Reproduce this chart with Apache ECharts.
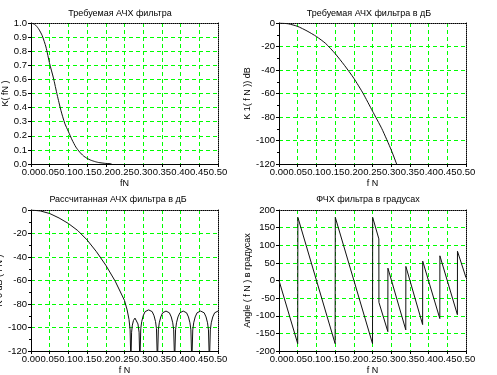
<!DOCTYPE html>
<html>
<head>
<meta charset="utf-8">
<title>АЧХ и ФЧХ фильтра</title>
<script src="https://cdn.jsdelivr.net/npm/echarts@6/dist/echarts.min.js"></script>
<style>
html, body { margin: 0; padding: 0; background: #fff; }
#main { width: 497px; height: 375px; }
</style>
</head>
<body>
<div id="main"></div>
<script>
// Требуемая АЧХ (линейная)
var kFreq  = [0, 0.01, 0.02, 0.03, 0.04, 0.05, 0.06, 0.07, 0.08, 0.09, 0.10, 0.11, 0.12, 0.13, 0.14, 0.15, 0.16, 0.17, 0.18, 0.20, 0.215];
var kValue = [1.0, 0.99, 0.96, 0.91, 0.83, 0.71, 0.61, 0.49, 0.38, 0.29, 0.23, 0.17, 0.12, 0.085, 0.058, 0.04, 0.027, 0.018, 0.011, 0.004, 0.002];

// Требуемая АЧХ в дБ
var dbFreq  = [0, 0.025, 0.05, 0.075, 0.10, 0.125, 0.15, 0.175, 0.20, 0.225, 0.25, 0.275, 0.30, 0.318];
var dbValue = [0, -0.7, -2.9, -6.8, -11.5, -17.5, -26, -36, -47, -60, -75, -90, -108, -123];

// Рассчитанная АЧХ в дБ (полоса пропускания + боковые лепестки)
var calcFreq = [0, 0.025, 0.05, 0.075, 0.10, 0.125, 0.15, 0.175, 0.20, 0.225, 0.25, 0.257, 0.262, 0.265, 0.267,
	0.269, 0.271, 0.274, 0.278, 0.283, 0.286, 0.289, 0.291,
	0.2935, 0.296, 0.300, 0.305, 0.3145, 0.324, 0.329, 0.333, 0.3355, 0.338,
	0.3405, 0.343, 0.347, 0.352, 0.361, 0.370, 0.375, 0.379, 0.3815, 0.384,
	0.3865, 0.389, 0.393, 0.398, 0.407, 0.416, 0.421, 0.425, 0.4275, 0.430,
	0.4325, 0.435, 0.439, 0.444, 0.4535, 0.463, 0.468, 0.472, 0.4745, 0.477,
	0.4795, 0.482, 0.486, 0.491, 0.50];
var calcValue = [0, -0.8, -3, -6.8, -11.5, -17.5, -25.5, -35.5, -47, -60.5, -77, -85, -93, -102, -130,
	-104, -98, -94, -92, -93.5, -97, -104, -130,
	-101, -95, -90, -86.5, -85, -86.5, -90, -95, -101, -130,
	-102, -96, -91, -87.5, -86, -87.5, -91, -96, -102, -130,
	-102, -96, -91, -87.5, -86, -87.5, -91, -96, -102, -130,
	-102, -96, -91, -87.5, -86, -87.5, -91, -96, -102, -130,
	-102, -96, -91, -87.5, -86];

// ФЧХ в градусах
var phaseFreq  = [0, 0.05, 0.0505, 0.15, 0.1505, 0.25, 0.2505, 0.267, 0.2672, 0.291, 0.2912, 0.339, 0.3392, 0.384, 0.3842, 0.430, 0.4302, 0.477, 0.4772, 0.50];
var phaseValue = [0, -179, 179, -179, 179, -179, 179, 118, -62, -145, 35, -140, 40, -125, 55, -108, 70, -97, 83, 8];

var FONT = 'Liberation Sans';

var plots = {

	zip: function(xs, ys) {
		var out = [];
		for (var i = 0; i < xs.length; i++) {
			out.push([xs[i], ys[i]]);
		}
		return out;
	},

	gridLine: function() { // зелёная пунктирная сетка
		return { color: '#00ff00', width: 1, type: [4, 3] };
	},

	build: function() {
		var chart = echarts.init(document.getElementById('main'));

		// расположение четырёх графиков
		var grids = [
			{ left: 31,  top: 23,  width: 187, height: 141 },
			{ left: 279, top: 23,  width: 187, height: 141 },
			{ left: 31,  top: 210, width: 187, height: 141 },
			{ left: 279, top: 210, width: 187, height: 141 }
		].map(function(g) {
			g.containLabel = false;
			g.outerBoundsMode = 'none';
			return g;
		});
		var yCfg = [
			{ min: 0,    max: 1,   interval: 0.1, digits: 1, minor: false, name: 'K( fN )' },
			{ min: -120, max: 0,   interval: 20,  digits: 0, minor: true,  name: 'K 1( f N )) dB' },
			{ min: -120, max: 0,   interval: 20,  digits: 0, minor: true,  name: 'K 0 dB ( f N )' },
			{ min: -200, max: 200, interval: 50,  digits: 0, minor: false, name: 'Angle ( f N ) в градусах' }
		];
		var xNames = ['fN', 'f N', 'f N', 'f N'];
		var titles = [
			{ text: 'Требуемая АЧХ фильтра',         x: 120, y: 9 },
			{ text: 'Требуемая АЧХ фильтра в дБ',    x: 369, y: 9 },
			{ text: 'Рассчитанная АЧХ фильтра в дБ', x: 118, y: 195 },
			{ text: 'ФЧХ фильтра в градусах',        x: 368, y: 195 }
		];

		var xAxes = [], yAxes = [];
		for (var g = 0; g < 4; g++) {
			var yc = yCfg[g];
			xAxes.push({
				gridIndex: g, type: 'value', min: 0, max: 0.5, interval: 0.05, position: 'bottom',
				name: xNames[g], nameLocation: 'middle', nameGap: 15,
				nameTextStyle: { color: '#000', fontSize: 9, fontFamily: FONT },
				axisLine: { onZero: false, lineStyle: { color: '#000', width: 1 } },
				axisTick: { show: true, length: 3, lineStyle: { color: '#000' } },
				axisLabel: {
					color: '#000', fontSize: 9.5, fontFamily: FONT, margin: 3,
					showMinLabel: true, showMaxLabel: true, hideOverlap: false,
					formatter: function(v) { return v.toFixed(2); }
				},
				splitLine: { show: true, showMinLine: false, showMaxLine: false, lineStyle: plots.gridLine() }
			});
			xAxes.push({ // верхняя рамка
				gridIndex: g, type: 'value', min: 0, max: 0.5, position: 'top',
				axisLine: { onZero: false, lineStyle: { color: '#000', width: 1, type: 'dotted' } },
				axisTick: { show: false }, axisLabel: { show: false }, splitLine: { show: false }
			});
			yAxes.push({
				gridIndex: g, type: 'value', min: yc.min, max: yc.max, interval: yc.interval, position: 'left',
				name: yc.name, nameLocation: 'middle', nameGap: 20,
				nameTextStyle: { color: '#000', fontSize: 9, fontFamily: FONT },
				axisLine: { show: true, onZero: false, lineStyle: { color: '#000', width: 1 } },
				axisTick: { show: true, length: 3, lineStyle: { color: '#000' } },
				minorTick: { show: yc.minor, splitNumber: 2, length: 2, lineStyle: { color: '#000' } },
				axisLabel: {
					color: '#000', fontSize: 9.5, fontFamily: FONT, margin: 4,
					showMinLabel: true, showMaxLabel: true,
					formatter: (function(d) { return function(v) { return v.toFixed(d); }; })(yc.digits)
				},
				splitLine: { show: true, showMinLine: false, showMaxLine: false, lineStyle: plots.gridLine() }
			});
			yAxes.push({ // правая рамка
				gridIndex: g, type: 'value', min: yc.min, max: yc.max, position: 'right',
				axisLine: { show: true, onZero: false, lineStyle: { color: '#000', width: 1, type: 'dotted' } },
				axisTick: { show: false }, axisLabel: { show: false }, splitLine: { show: false }
			});
		}

		var series = [
			{ data: plots.zip(kFreq, kValue), smooth: 0.2 },
			{ data: plots.zip(dbFreq, dbValue), smooth: 0.2 },
			{ data: plots.zip(calcFreq, calcValue), smooth: false },
			{ data: plots.zip(phaseFreq, phaseValue), smooth: false }
		].map(function(s, g) {
			return {
				type: 'line', xAxisIndex: 2 * g, yAxisIndex: 2 * g,
				data: s.data, smooth: s.smooth, symbol: 'none', clip: true,
				lineStyle: { color: '#111', width: 1 }, z: 3
			};
		});

		var option = {
			animation: false,
			backgroundColor: '#fff',
			title: titles.map(function(t) {
				return {
					text: t.text, left: t.x, top: t.y, textAlign: 'center', padding: 0,
					textStyle: { color: '#000', fontSize: 9, fontWeight: 'normal', fontFamily: FONT }
				};
			}),
			grid: grids,
			xAxis: xAxes,
			yAxis: yAxes,
			series: series
		};
		chart.setOption(option);
	}
};

plots.build();
</script>
</body>
</html>
